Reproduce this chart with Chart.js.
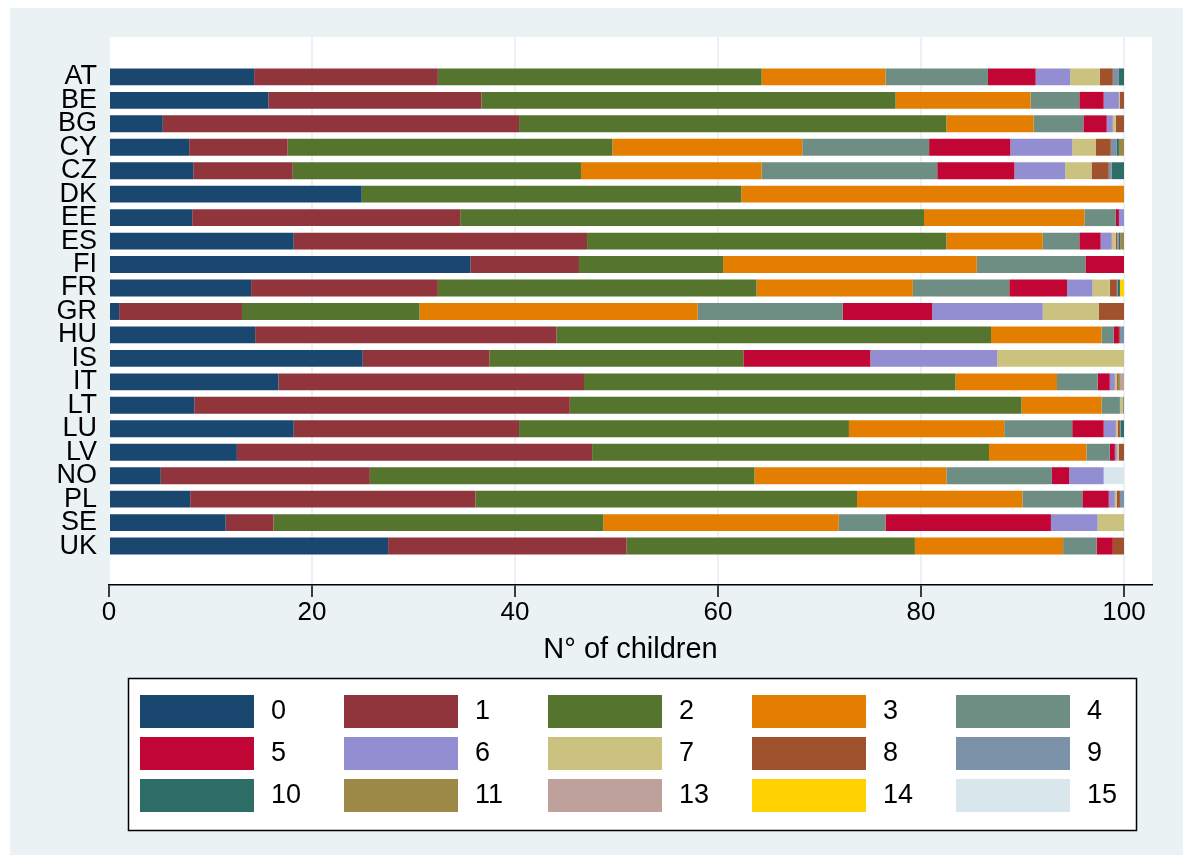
<!DOCTYPE html>
<html>
<head>
<meta charset="utf-8">
<script src="https://cdn.jsdelivr.net/npm/chart.js@4.4.1/dist/chart.umd.min.js"></script>
<style>
  html, body { margin: 0; padding: 0; background: #fff; }
  canvas { display: block; }
</style>
</head>
<body>
<canvas id="chart" width="1192" height="855"></canvas>
<script>
// share of households (%) by number of children, per country
const countries = ["AT", "BE", "BG", "CY", "CZ", "DK", "EE", "ES", "FI", "FR", "GR",
  "HU", "IS", "IT", "LT", "LU", "LV", "NO", "PL", "SE", "UK"];
const childLabels = ["0", "1", "2", "3", "4", "5", "6", "7", "8", "9", "10", "11", "13", "14", "15"];
const childColors = ["#1a476f", "#90353b", "#55752f", "#e37e00", "#6e8e84", "#c10534", "#938dd2",
  "#cac27e", "#a0522d", "#7b92a8", "#2d6d66", "#9c8847", "#bfa19c", "#ffd200", "#d9e6eb"];
const xTicks = [0, 20, 40, 60, 80, 100];

const kids0 = [14.3, 15.7, 5.3, 7.9, 8.3, 24.9, 8.2, 18.2, 35.6, 14.0, 1.0, 14.4, 25, 16.7, 8.4, 18.2, 12.6, 5.1, 8.0, 11.5, 27.5];
const kids1 = [18.1, 21.0, 35.1, 9.7, 9.8, 0, 26.4, 28.9, 10.7, 18.4, 12.1, 29.7, 12.5, 30.1, 37.0, 22.2, 35.0, 20.6, 28.1, 4.7, 23.5];
const kids2 = [31.9, 40.8, 42.1, 32.0, 28.4, 37.4, 45.7, 35.4, 14.2, 31.4, 17.5, 42.8, 25, 36.6, 44.5, 32.5, 39.1, 37.9, 37.6, 32.5, 28.4];
const kids3 = [12.2, 13.3, 8.6, 18.7, 17.8, 37.7, 15.8, 9.5, 25.0, 15.4, 27.4, 10.9, 0, 10.0, 7.9, 15.3, 9.6, 18.9, 16.3, 23.2, 14.6];
const kids4 = [10.1, 4.8, 4.9, 12.5, 17.3, 0, 3.1, 3.6, 10.7, 9.5, 14.3, 1.2, 0, 4.0, 1.8, 6.7, 2.3, 10.4, 5.9, 4.6, 3.3];
const kids5 = [4.7, 2.4, 2.3, 8.0, 7.6, 0, 0.3, 2.1, 3.8, 5.7, 8.8, 0.5, 12.5, 1.2, 0, 3.1, 0.5, 1.7, 2.6, 16.3, 1.6];
const kids6 = [3.4, 1.5, 0.6, 6.1, 5.0, 0, 0.5, 1.1, 0, 2.5, 10.9, 0, 12.5, 0.5, 0, 1.2, 0.2, 3.4, 0.6, 4.6, 0];
const kids7 = [2.9, 0.1, 0.3, 2.3, 2.6, 0, 0, 0.4, 0, 1.7, 5.5, 0, 12.5, 0.2, 0.3, 0.2, 0.2, 0, 0.2, 2.6, 0];
const kids8 = [1.3, 0.4, 0.8, 1.5, 1.7, 0, 0, 0.15, 0, 0.7, 2.5, 0.1, 0, 0.1, 0, 0.2, 0.5, 0, 0.3, 0, 1.1];
const kids9 = [0.6, 0, 0, 0.6, 0.3, 0, 0, 0.15, 0, 0.1, 0, 0.4, 0, 0, 0.1, 0.1, 0, 0, 0.4, 0, 0];
const kids10 = [0.5, 0, 0, 0.2, 1.2, 0, 0, 0.15, 0, 0.2, 0, 0, 0, 0, 0, 0.3, 0, 0, 0, 0, 0];
const kids11 = [0, 0, 0, 0.5, 0, 0, 0, 0.35, 0, 0, 0, 0, 0, 0.2, 0, 0, 0, 0, 0, 0, 0];
const kids13 = [0, 0, 0, 0, 0, 0, 0, 0, 0, 0, 0, 0, 0, 0.4, 0, 0, 0, 0, 0, 0, 0];
const kids14 = [0, 0, 0, 0, 0, 0, 0, 0, 0, 0.4, 0, 0, 0, 0, 0, 0, 0, 0, 0, 0, 0];
const kids15 = [0, 0, 0, 0, 0, 0, 0, 0, 0, 0, 0, 0, 0, 0, 0, 0, 0, 2.0, 0, 0, 0];

const shares = [kids0, kids1, kids2, kids3, kids4, kids5, kids6, kids7, kids8, kids9,
  kids10, kids11, kids13, kids14, kids15];

const FONT = "'Liberation Sans', Arial, sans-serif";

// grey-blue page, white plot region
const backdrop = {
  id: "backdrop",
  beforeDraw(chart) {
    const { ctx, chartArea: a } = chart;
    ctx.save();
    ctx.fillStyle = "#ffffff";
    ctx.fillRect(0, 0, chart.width, chart.height);
    ctx.fillStyle = "#eaf2f3";
    ctx.fillRect(10, 8, 1173, chart.height - 8);
    ctx.fillStyle = "#ffffff";
    ctx.fillRect(a.left + 1, a.top, a.right - a.left - 1, a.bottom - a.top);
    ctx.restore();
  }
};

// Stata-like legend: 5 columns, boxed
const gridLegend = {
  id: "gridLegend",
  afterDraw(chart) {
    const ctx = chart.ctx;
    ctx.save();
    ctx.fillStyle = "#ffffff";
    ctx.fillRect(128, 678, 1009, 153);
    ctx.strokeStyle = "#000000";
    ctx.lineWidth = 1.5;
    ctx.strokeRect(128.5, 678.5, 1008, 152);
    ctx.font = "27px " + FONT;
    ctx.textBaseline = "middle";
    ctx.textAlign = "left";
    chart.data.datasets.forEach((ds, i) => {
      const col = i % 5;
      const row = Math.floor(i / 5);
      const x = 140 + col * 204;
      const y = 695 + row * 42;
      ctx.fillStyle = ds.backgroundColor;
      ctx.fillRect(x, y, 114, 33);
      ctx.fillStyle = "#000000";
      ctx.fillText(ds.label, x + 131, y + 17);
    });
    ctx.restore();
  }
};

const datasets = shares.map((values, i) => ({
  label: childLabels[i],
  data: values.map((v, j) => ({ x: v, y: j })),
  backgroundColor: childColors[i],
  borderWidth: 0,
  barPercentage: 0.9,
  categoryPercentage: 0.8
}));

new Chart(document.getElementById("chart"), {
  type: "bar",
  data: { datasets },
  plugins: [backdrop, gridLegend],
  options: {
    indexAxis: "y",
    responsive: false,
    animation: false,
    layout: { padding: { left: 0, right: 40, top: 37, bottom: 180 } },
    plugins: {
      legend: { display: false },
      tooltip: { enabled: false }
    },
    scales: {
      x: {
        type: "linear",
        stacked: true,
        min: 0,
        max: 102.76,
        afterBuildTicks: (axis) => { axis.ticks = xTicks.map((v) => ({ value: v })); },
        afterFit: (axis) => { axis.height = 90; },
        grid: {
          color: "#eaf2f3",
          lineWidth: 2,
          tickColor: "#000000",
          tickWidth: 1.5,
          tickLength: 12
        },
        border: { color: "#000000", width: 1.5 },
        ticks: { color: "#000000", padding: 0, font: { family: FONT, size: 26 } },
        title: {
          display: true,
          text: "N° of children",
          color: "#000000",
          font: { family: FONT, size: 29 },
          padding: { top: 0, bottom: 8 }
        }
      },
      y: {
        type: "linear",
        stacked: true,
        reverse: true,
        offset: false,
        min: -1.7,
        max: 21.66,
        afterBuildTicks: (axis) => { axis.ticks = countries.map((c, i) => ({ value: i })); },
        afterFit: (axis) => { axis.width = 109; },
        grid: { display: false, drawTicks: false },
        border: { display: false },
        ticks: {
          color: "#000000",
          padding: 12,
          autoSkip: false,
          font: { family: FONT, size: 27 },
          callback: (value) => countries[value]
        }
      }
    }
  }
});
</script>
</body>
</html>
